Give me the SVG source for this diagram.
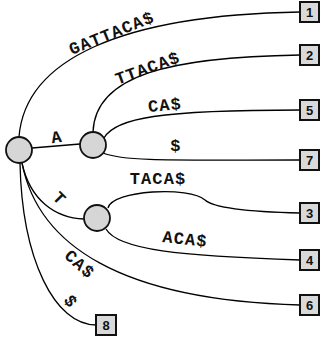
<svg xmlns="http://www.w3.org/2000/svg" width="327" height="346" viewBox="0 0 327 346">
  <style>
    .edge { fill: none; stroke: #000; stroke-width: 1.3; }
    .inner { fill: #d6d6d6; stroke: #111; stroke-width: 1.8; }
    .leaf rect { fill: #d9d9d9; stroke: #111; stroke-width: 2; }
    .leaf text { font-family: "Liberation Sans", Arial, sans-serif; font-weight: bold; font-size: 13px; fill: #111; text-anchor: middle; }
    .lbl { font-family: "Liberation Mono", "DejaVu Sans Mono", monospace; font-weight: bold; font-size: 17px; letter-spacing: 1.1px; fill: #111; text-anchor: middle; dominant-baseline: central; }
  </style>

  <!-- suffix tree edges -->
  <g id="edges">
    <path class="edge" d="M19,137 C25,60 120,15 300,12"/>
    <path class="edge" d="M32,148 L80,144"/>
    <path class="edge" d="M93,132 C95,75 170,57 300,55"/>
    <path class="edge" d="M104,138 C115,118 160,110 300,110"/>
    <path class="edge" d="M103,153 C125,162 180,160 300,160"/>
    <path class="edge" d="M22,163 C30,200 55,218 84,219"/>
    <path class="edge" d="M108,208 C112,190 190,186 205,200 C215,209 255,212 300,213"/>
    <path class="edge" d="M106,229 C118,250 180,256 300,260"/>
    <path class="edge" d="M22,163 C38,245 120,300 300,305"/>
    <path class="edge" d="M20,163 C22,260 55,325 96,325"/>

    <text class="lbl" transform="translate(112,34) rotate(-22)">GATTACA$</text>
    <text class="lbl" transform="translate(148,69) rotate(-20)">TTACA$</text>
    <text class="lbl" transform="translate(165,106) rotate(-5)">CA$</text>
    <text class="lbl" transform="translate(176,146)">$</text>
    <text class="lbl" transform="translate(57,138) rotate(-8)">A</text>
    <text class="lbl" transform="translate(158,179)">TACA$</text>
    <text class="lbl" transform="translate(59,199) rotate(45)">T</text>
    <text class="lbl" transform="translate(185,240) rotate(6)">ACA$</text>
    <text class="lbl" transform="translate(79,265) rotate(42)">CA$</text>
    <text class="lbl" transform="translate(70,302) rotate(55)">$</text>
  </g>

  <!-- internal nodes -->
  <g id="root"><circle class="inner" cx="19" cy="150" r="13"/></g>
  <g id="nodeA"><circle class="inner" cx="93" cy="145" r="13"/></g>
  <g id="nodeT"><circle class="inner" cx="97" cy="218" r="13"/></g>

  <!-- leaves -->
  <g id="leaf1" class="leaf"><rect x="300" y="2" width="19" height="20"/><text x="309.5" y="17">1</text></g>
  <g id="leaf2" class="leaf"><rect x="300" y="45" width="19" height="20"/><text x="309.5" y="60">2</text></g>
  <g id="leaf5" class="leaf"><rect x="300" y="100" width="19" height="20"/><text x="309.5" y="115">5</text></g>
  <g id="leaf7" class="leaf"><rect x="300" y="150" width="19" height="20"/><text x="309.5" y="165">7</text></g>
  <g id="leaf3" class="leaf"><rect x="300" y="203" width="19" height="20"/><text x="309.5" y="218">3</text></g>
  <g id="leaf4" class="leaf"><rect x="300" y="250" width="19" height="20"/><text x="309.5" y="265">4</text></g>
  <g id="leaf6" class="leaf"><rect x="300" y="295" width="19" height="20"/><text x="309.5" y="310">6</text></g>
  <g id="leaf8" class="leaf"><rect x="96" y="315" width="20" height="20"/><text x="106" y="330">8</text></g>
</svg>
